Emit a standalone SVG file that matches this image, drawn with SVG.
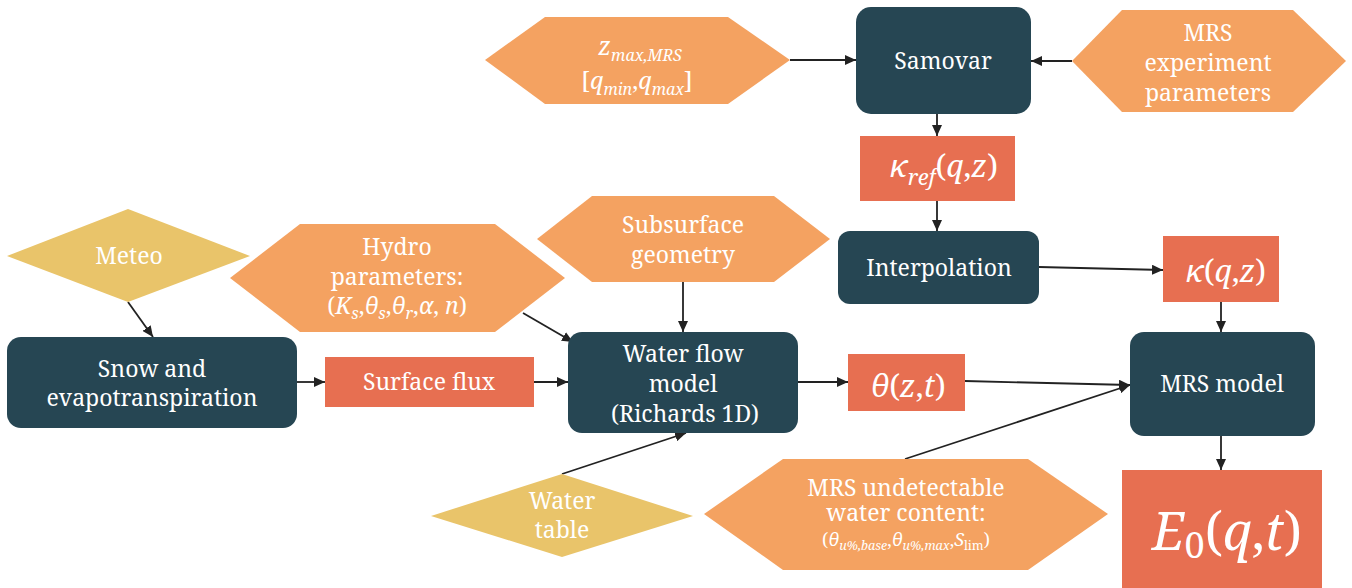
<svg xmlns="http://www.w3.org/2000/svg" width="1352" height="588" viewBox="0 0 1352 588">
<style>
.proc{fill:#264653}
.data{fill:#E76F51}
.param{fill:#F4A261}
.ext{fill:#E9C46A}
.t{font-family:Noto Serif,serif;font-size:23px;fill:#ffffff;text-anchor:middle}
.m{font-family:Noto Serif,serif;font-style:italic;fill:#ffffff;text-anchor:middle}
.up{font-style:normal}
.c{stroke:#222222;stroke-width:1.8;fill:none;marker-end:url(#ah)}
</style>
<defs>
<marker id="ah" markerUnits="userSpaceOnUse" markerWidth="11" markerHeight="10" refX="11" refY="5" orient="auto">
<path d="M0,0 L11,5 L0,10 z" fill="#222222"/>
</marker>
</defs>
<rect width="1352" height="588" fill="#ffffff"/>
<g id="connectors">
<line class="c" x1="790" y1="60" x2="856" y2="60"/>
<line class="c" x1="1072" y1="61" x2="1031" y2="61"/>
<line class="c" x1="937" y1="114" x2="937" y2="136"/>
<line class="c" x1="937" y1="201" x2="937" y2="231"/>
<line class="c" x1="1039" y1="267" x2="1163" y2="270"/>
<line class="c" x1="1221" y1="302" x2="1221" y2="332"/>
<line class="c" x1="1221" y1="436" x2="1221" y2="470"/>
<line class="c" x1="128" y1="302" x2="153" y2="337"/>
<line class="c" x1="297" y1="382" x2="325" y2="382"/>
<line class="c" x1="534" y1="382" x2="568" y2="382"/>
<line class="c" x1="523" y1="313" x2="573" y2="342"/>
<line class="c" x1="683" y1="282" x2="683" y2="332"/>
<line class="c" x1="562" y1="474" x2="686" y2="433"/>
<line class="c" x1="798" y1="382" x2="848" y2="382"/>
<line class="c" x1="965" y1="381" x2="1130" y2="385"/>
<line class="c" x1="905" y1="459" x2="1130" y2="385"/>
</g>
<g id="zmax">
<polygon class="param" points="485,60 545,17 728,17 790,60 728,104 545,104"/>
<text class="m" x="640" y="55" font-size="25">z<tspan font-size="16" dy="6">max,MRS</tspan></text>
<text class="m" x="637" y="89" font-size="24"><tspan class="up">[</tspan>q<tspan font-size="16" dy="6">min</tspan><tspan class="up" dy="-6">,</tspan>q<tspan font-size="16" dy="6">max</tspan><tspan class="up" dy="-6">]</tspan></text>
</g>
<g id="samovar">
<rect class="proc" x="856" y="7" width="175" height="107" rx="15"/>
<text class="t" x="943" y="69">Samovar</text>
</g>
<g id="mrsexp">
<polygon class="param" points="1072,61 1122,10 1293,10 1346,61 1293,112 1122,112"/>
<text class="t" x="1208" y="41">MRS</text>
<text class="t" x="1208" y="71">experiment</text>
<text class="t" x="1208" y="101">parameters</text>
</g>
<g id="kref">
<rect class="data" x="860" y="136" width="155" height="65"/>
<text class="m" x="944" y="177" font-size="31">κ<tspan font-size="22" dy="8">ref</tspan><tspan class="up" dy="-8">(</tspan>q<tspan class="up">,</tspan>z<tspan class="up">)</tspan></text>
</g>
<g id="interp">
<rect class="proc" x="838" y="231" width="201" height="73" rx="12"/>
<text class="t" x="939" y="276">Interpolation</text>
</g>
<g id="kappa">
<rect class="data" x="1163" y="236" width="116" height="66"/>
<text class="m" x="1226" y="282" font-size="31">κ<tspan class="up">(</tspan>q<tspan class="up">,</tspan>z<tspan class="up">)</tspan></text>
</g>
<g id="meteo">
<polygon class="ext" points="7,256 128,209 250,256 128,302"/>
<text class="t" x="129" y="264">Meteo</text>
</g>
<g id="hydro">
<polygon class="param" points="230,278 300,224 495,224 565,278 495,332 300,332"/>
<text class="t" x="397" y="255">Hydro</text>
<text class="t" x="397" y="285">parameters:</text>
<text class="m" x="397" y="314" font-size="23"><tspan class="up">(</tspan>K<tspan font-size="16" dy="5">s</tspan><tspan class="up" dy="-5">,</tspan>θ<tspan font-size="16" dy="5">s</tspan><tspan class="up" dy="-5">,</tspan>θ<tspan font-size="16" dy="5">r</tspan><tspan class="up" dy="-5">,</tspan>α<tspan class="up">, </tspan>n<tspan class="up">)</tspan></text>
</g>
<g id="subsurface">
<polygon class="param" points="537,239 592,196 774,196 830,239 774,282 592,282"/>
<text class="t" x="683" y="233">Subsurface</text>
<text class="t" x="683" y="263">geometry</text>
</g>
<g id="snow">
<rect class="proc" x="7" y="337" width="290" height="91" rx="14"/>
<text class="t" x="152" y="377">Snow and</text>
<text class="t" x="152" y="406">evapotranspiration</text>
</g>
<g id="surfaceflux">
<rect class="data" x="325" y="357" width="209" height="50"/>
<text class="t" x="429" y="390">Surface flux</text>
</g>
<g id="waterflow">
<rect class="proc" x="568" y="332" width="230" height="101" rx="14"/>
<text class="t" x="683" y="362">Water flow</text>
<text class="t" x="683" y="392">model</text>
<text class="t" x="685" y="422">(Richards 1D)</text>
</g>
<g id="theta">
<rect class="data" x="848" y="354" width="117" height="57"/>
<text class="m" x="908" y="397" font-size="31">θ<tspan class="up">(</tspan>z<tspan class="up">,</tspan>t<tspan class="up">)</tspan></text>
</g>
<g id="mrsmodel">
<rect class="proc" x="1130" y="332" width="185" height="104" rx="14"/>
<text class="t" x="1222" y="392">MRS model</text>
</g>
<g id="watertable">
<polygon class="ext" points="431,516 562,474 693,516 562,557"/>
<text class="t" x="562" y="509">Water</text>
<text class="t" x="562" y="538">table</text>
</g>
<g id="undetect">
<polygon class="param" points="704,514 783,459 1028,459 1108,514 1028,570 783,570"/>
<text class="t" x="906" y="496" font-size="17.5">MRS undetectable</text>
<text class="t" x="906" y="521" font-size="17.5">water content:</text>
<text class="m" x="906" y="546" font-size="18"><tspan class="up">(</tspan>θ<tspan font-size="12.5" dy="4">u%,base</tspan><tspan class="up" dy="-4">,</tspan>θ<tspan font-size="12.5" dy="4">u%,max</tspan><tspan class="up" dy="-4">,</tspan>S<tspan class="up" font-size="12.5" dy="4">lim</tspan><tspan class="up" dy="-4">)</tspan></text>
</g>
<g id="e0">
<rect class="data" x="1122" y="470" width="200" height="118"/>
<text class="m" x="1227" y="550" font-size="52">E<tspan class="up" font-size="36" dy="8">0</tspan><tspan class="up" dy="-8">(</tspan>q<tspan class="up">,</tspan>t<tspan class="up">)</tspan></text>
</g>
</svg>
